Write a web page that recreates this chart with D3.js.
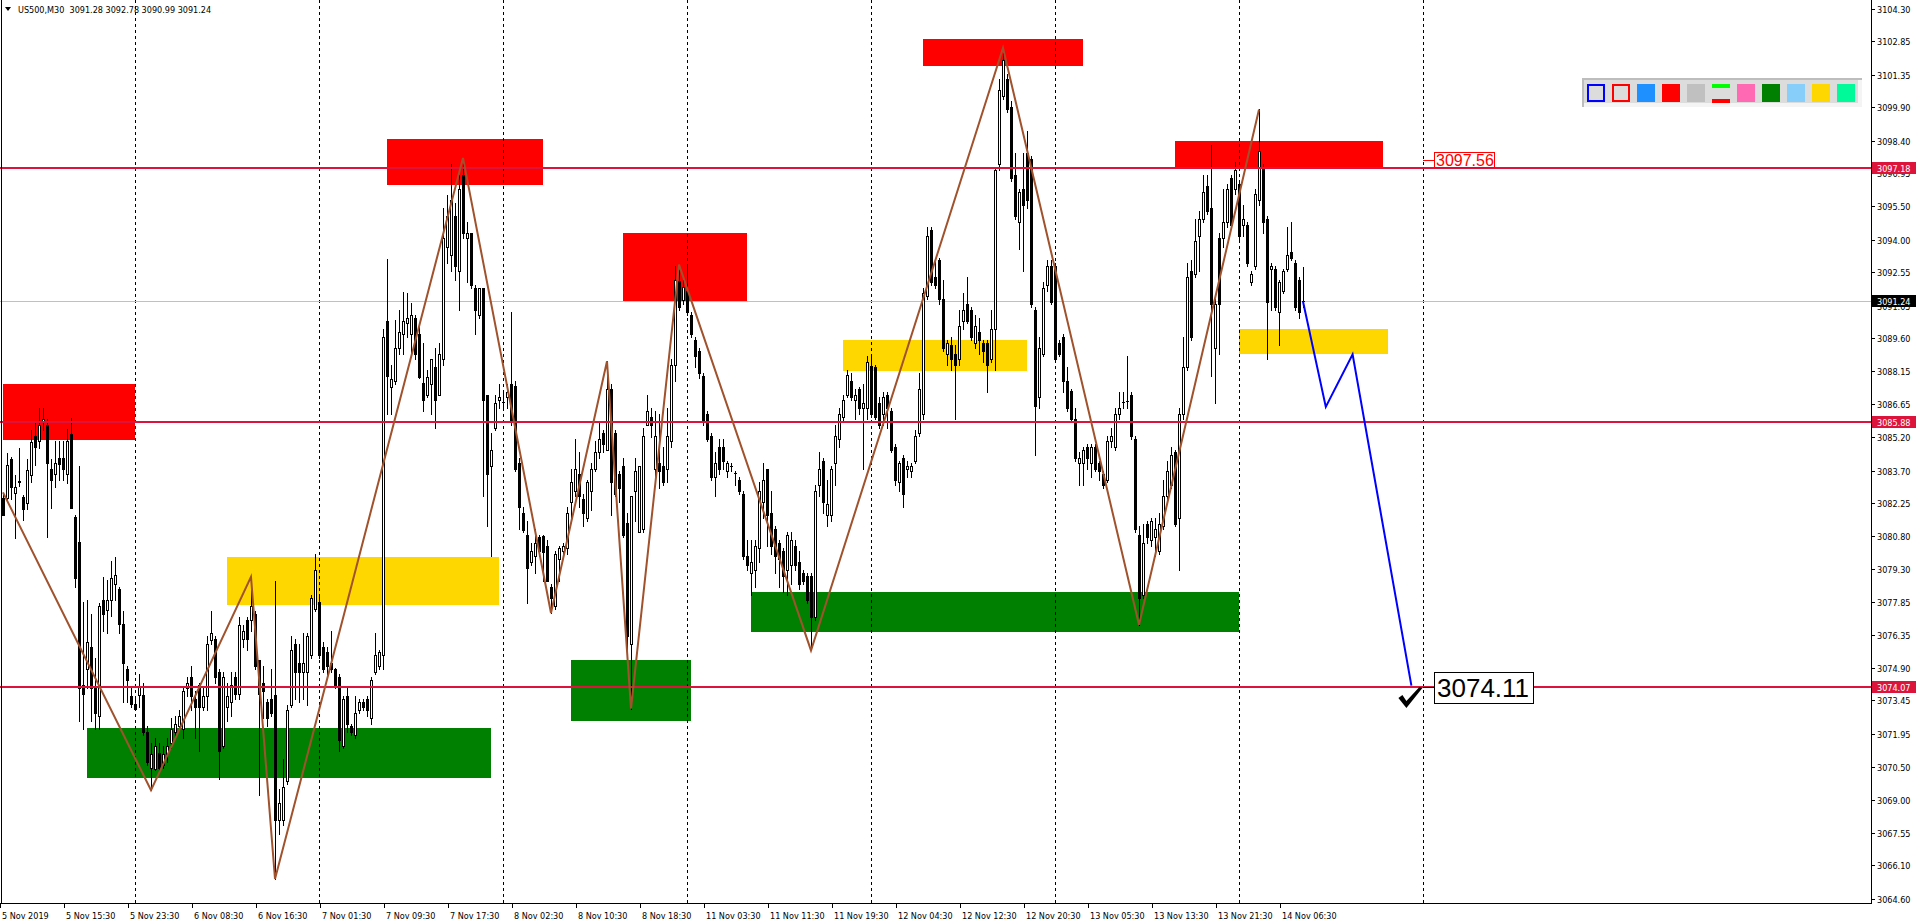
<!DOCTYPE html>
<html><head><meta charset="utf-8">
<script src="https://cdn.jsdelivr.net/npm/d3@7"></script>
<style>
html,body{margin:0;padding:0;background:#fff;overflow:hidden}
svg{display:block}
.sm{font-family:"DejaVu Sans Condensed","DejaVu Sans",sans-serif;font-size:9px}
</style></head><body>
<svg id="c" width="1916" height="923"></svg>
<script>
const symbolTitle = "US500,M30";
const lastQuote = ["3091.28", "3092.78", "3090.99", "3091.24"];
const priceTicks = ["3104.30","3102.85","3101.35","3099.90","3098.40","3096.95","3095.50","3094.00","3092.55","3091.05","3089.60","3088.15","3086.65","3085.20","3083.70","3082.25","3080.80","3079.30","3077.85","3076.35","3074.90","3073.45","3071.95","3070.50","3069.00","3067.55","3066.10","3064.60"];
const timeLabels = ["5 Nov 2019","5 Nov 15:30","5 Nov 23:30","6 Nov 08:30","6 Nov 16:30","7 Nov 01:30","7 Nov 09:30","7 Nov 17:30","8 Nov 02:30","8 Nov 10:30","8 Nov 18:30","11 Nov 03:30","11 Nov 11:30","11 Nov 19:30","12 Nov 04:30","12 Nov 12:30","12 Nov 20:30","13 Nov 05:30","13 Nov 13:30","13 Nov 21:30","14 Nov 06:30"];
const timeLabelBars = [0,16,32,48,64,80,96,112,128,144,160,176,192,208,224,240,256,272,288,304,320];
const dayStartBars = [33,79,125,171,217,263,309,355];
const levelLines = [3097.18, 3085.88, 3074.07];
const bidPrice = 3091.24;
// [open, high, low, close] per M30 bar
const candles = [
[3082.46,3082.69,3081.72,3081.72],[3082.46,3084.47,3082.39,3083.95],[3084.22,3084.30,3082.42,3082.98],[3082.69,3083.50,3080.70,3082.98],
[3083.20,3084.70,3083.00,3083.25],[3082.50,3082.60,3081.50,3082.00],[3082.27,3084.22,3081.97,3083.73],[3083.50,3085.51,3083.21,3084.96],
[3085.26,3085.81,3083.97,3084.74],[3085.02,3086.48,3084.70,3085.73],[3085.86,3086.50,3085.50,3086.00],[3085.73,3086.00,3080.72,3084.02],
[3083.77,3084.22,3082.01,3083.28],[3083.53,3085.02,3082.98,3084.02],[3084.28,3085.02,3083.28,3084.00],[3084.28,3085.02,3083.28,3083.77],
[3083.53,3085.56,3083.13,3085.02],[3085.32,3086.06,3082.01,3082.01],[3081.62,3081.70,3078.50,3078.93],[3080.52,3083.90,3072.53,3074.00],
[3074.12,3077.83,3072.16,3073.75],[3074.85,3077.91,3074.00,3076.07],[3075.83,3077.30,3072.53,3074.00],[3074.00,3075.34,3072.16,3072.89],
[3072.77,3077.78,3072.16,3077.66],[3077.91,3078.96,3076.56,3077.30],[3077.47,3078.81,3076.44,3077.91],[3077.91,3079.67,3077.22,3078.93],
[3078.64,3079.86,3077.91,3079.06],[3078.40,3078.52,3076.44,3076.88],[3076.88,3077.42,3073.38,3075.10],[3074.85,3074.97,3073.38,3074.36],
[3073.63,3074.00,3073.14,3073.31],[3073.31,3073.51,3073.02,3073.07],[3073.70,3074.61,3073.14,3074.04],[3073.68,3074.24,3071.92,3072.04],
[3072.04,3072.29,3070.57,3070.69],[3070.45,3071.55,3069.45,3071.06],[3070.38,3071.79,3070.33,3071.43],[3071.10,3071.55,3070.33,3070.45],
[3070.57,3071.43,3070.45,3071.06],[3071.06,3071.79,3070.69,3071.43],[3071.55,3072.65,3071.31,3072.16],[3072.04,3072.77,3071.79,3072.41],
[3072.33,3073.02,3072.16,3072.77],[3072.16,3074.00,3071.79,3073.87],[3074.00,3074.48,3073.63,3074.24],[3074.48,3074.97,3073.02,3073.63],
[3073.51,3073.87,3071.79,3073.14],[3074.12,3074.24,3071.18,3073.14],[3073.14,3074.00,3073.02,3073.63],[3073.63,3076.32,3073.02,3075.95],
[3076.15,3077.42,3075.95,3076.44],[3076.20,3076.32,3074.24,3074.48],[3074.73,3074.85,3069.96,3071.18],[3071.43,3074.73,3071.31,3074.48],
[3073.14,3074.24,3072.53,3073.63],[3073.38,3074.73,3072.77,3074.12],[3074.48,3074.73,3073.51,3073.75],[3073.75,3077.17,3073.51,3076.81],
[3076.20,3076.81,3075.83,3076.56],[3077.05,3077.17,3075.71,3076.20],[3077.05,3078.96,3076.56,3077.66],[3077.30,3077.42,3074.85,3074.97],
[3075.26,3075.26,3069.23,3073.75],[3074.24,3074.97,3072.65,3073.87],[3073.38,3073.51,3072.29,3072.65],[3073.51,3074.85,3072.77,3072.89],
[3073.70,3078.77,3065.49,3068.13],[3068.13,3069.50,3067.50,3068.86],[3068.13,3070.82,3067.88,3069.60],[3069.84,3073.26,3069.72,3073.02],
[3073.26,3076.32,3073.14,3075.71],[3075.95,3076.20,3073.51,3074.73],[3075.10,3075.95,3073.38,3074.73],[3074.73,3076.44,3073.51,3075.10],
[3074.73,3076.44,3073.26,3076.32],[3075.46,3078.15,3075.34,3078.03],[3077.54,3079.99,3077.42,3079.25],[3077.83,3078.15,3075.34,3075.46],
[3075.83,3076.07,3074.73,3074.85],[3075.59,3075.83,3074.61,3074.97],[3075.10,3076.56,3074.73,3074.85],[3074.85,3074.90,3074.00,3074.12],
[3074.48,3074.61,3071.18,3071.67],[3071.43,3073.63,3071.31,3073.51],[3073.63,3074.00,3072.04,3072.41],[3072.29,3072.41,3071.92,3072.04],
[3071.92,3073.63,3071.79,3072.89],[3073.02,3073.51,3072.89,3073.38],[3073.38,3073.51,3073.02,3073.14],[3073.51,3073.63,3072.77,3073.02],
[3072.65,3074.48,3072.41,3074.36],[3074.73,3076.44,3074.61,3075.46],[3074.97,3075.71,3074.85,3075.59],[3075.46,3090.01,3074.85,3089.65],
[3090.38,3093.12,3086.22,3087.93],[3087.44,3088.42,3086.22,3087.80],[3087.69,3090.43,3087.57,3089.16],[3089.16,3090.87,3088.91,3089.89],
[3089.77,3091.65,3088.91,3090.38],[3090.26,3091.60,3089.65,3090.50],[3089.77,3091.16,3088.91,3090.62],[3090.50,3090.62,3088.67,3088.91],
[3089.77,3090.13,3087.81,3087.88],[3087.62,3089.40,3086.34,3086.83],[3087.08,3088.18,3086.96,3087.88],[3087.57,3088.67,3086.22,3088.67],
[3088.30,3089.16,3085.61,3086.83],[3087.08,3089.40,3087.08,3088.91],[3088.67,3095.39,3088.42,3094.05],[3093.68,3096.00,3092.95,3095.03],
[3093.32,3097.35,3092.58,3095.76],[3095.03,3095.64,3092.21,3092.83],[3092.58,3096.86,3090.87,3096.25],[3096.86,3097.64,3094.05,3094.29],
[3094.05,3094.78,3092.09,3094.29],[3094.29,3094.29,3091.85,3091.97],[3091.85,3091.97,3089.77,3090.87],[3090.62,3091.85,3090.50,3091.85],
[3091.85,3091.85,3082.55,3086.83],[3087.08,3087.08,3081.21,3083.53],[3083.90,3085.37,3079.87,3084.63],[3085.61,3087.08,3085.49,3086.71],
[3086.83,3087.57,3086.47,3086.96],[3086.76,3087.20,3086.47,3086.76],[3087.00,3087.57,3086.47,3087.20],[3087.57,3090.75,3085.73,3085.86],
[3087.49,3087.69,3083.66,3083.78],[3084.02,3084.27,3081.09,3082.06],[3081.82,3082.06,3080.96,3081.04],[3080.84,3081.45,3077.78,3079.37],
[3079.62,3080.48,3079.50,3080.11],[3079.87,3081.09,3079.13,3080.48],[3080.72,3080.84,3079.87,3080.11],[3080.79,3080.84,3078.76,3080.06],
[3080.35,3080.60,3078.76,3078.76],[3078.52,3078.64,3077.35,3078.03],[3077.66,3080.11,3077.54,3079.99],[3079.75,3080.35,3078.76,3080.23],
[3080.11,3080.48,3079.87,3080.35],[3080.23,3082.06,3079.99,3081.82],[3082.31,3083.78,3081.58,3083.17],[3082.80,3085.12,3082.55,3083.78],
[3083.53,3084.51,3082.06,3082.55],[3082.43,3082.67,3081.21,3081.82],[3081.58,3083.29,3081.45,3083.17],[3082.80,3084.02,3081.94,3083.78],
[3083.78,3085.00,3083.66,3084.51],[3084.51,3085.86,3084.27,3085.12],[3085.37,3085.49,3084.51,3084.88],[3084.63,3088.57,3084.63,3087.32],
[3087.32,3087.57,3081.70,3083.17],[3085.37,3085.49,3082.55,3082.67],[3083.53,3083.66,3082.31,3082.92],[3083.90,3084.27,3080.72,3080.84],
[3081.38,3081.82,3075.71,3076.32],[3075.95,3082.55,3073.09,3082.55],[3082.80,3084.27,3081.45,3083.66],[3080.96,3083.90,3080.96,3083.90],
[3081.09,3085.61,3080.96,3085.25],[3085.74,3087.08,3085.74,3086.34],[3086.10,3086.50,3085.20,3085.73],[3083.78,3086.34,3083.00,3085.24],
[3084.02,3086.22,3082.92,3083.66],[3083.90,3084.76,3083.04,3083.17],[3083.78,3086.47,3083.17,3085.24],[3085.00,3088.67,3084.76,3088.42],
[3088.42,3092.83,3087.69,3092.21],[3092.14,3092.88,3090.87,3090.99],[3091.31,3092.21,3091.11,3091.89],[3091.72,3092.83,3090.62,3090.75],
[3090.62,3090.75,3089.65,3089.77],[3089.52,3089.65,3088.30,3088.79],[3089.03,3089.16,3087.81,3088.05],[3087.93,3088.05,3085.74,3085.86],
[3086.22,3086.34,3085.00,3085.12],[3085.24,3085.37,3083.29,3083.41],[3083.41,3084.51,3082.55,3084.02],[3084.76,3085.12,3083.53,3083.78],
[3084.76,3085.12,3083.78,3084.14],[3083.66,3084.14,3083.41,3084.02],[3083.90,3084.02,3083.66,3083.90],[3083.58,3083.66,3083.04,3083.58],
[3083.29,3083.41,3082.67,3082.80],[3082.67,3082.80,3079.74,3079.87],[3079.87,3080.60,3079.25,3079.50],[3079.13,3080.60,3078.15,3079.62],
[3079.25,3080.60,3078.52,3080.35],[3080.23,3083.17,3079.62,3082.80],[3082.31,3084.02,3081.58,3083.29],[3083.78,3083.78,3080.35,3081.70],
[3081.82,3082.80,3079.99,3080.35],[3081.09,3081.21,3079.13,3079.87],[3080.48,3080.60,3078.52,3079.74],[3080.11,3080.23,3078.27,3079.01],
[3079.25,3080.96,3078.15,3080.84],[3079.50,3080.96,3078.64,3080.60],[3080.35,3080.60,3079.25,3079.50],[3079.62,3080.11,3078.40,3078.64],
[3079.13,3079.25,3078.64,3078.76],[3079.01,3079.13,3077.78,3077.91],[3079.01,3079.13,3075.68,3077.17],[3077.17,3083.04,3077.05,3082.80],
[3083.04,3084.51,3082.55,3083.78],[3084.14,3084.27,3081.82,3082.31],[3081.70,3083.29,3081.21,3082.19],[3081.70,3083.90,3081.45,3083.78],
[3084.02,3085.73,3083.04,3085.24],[3085.12,3086.47,3084.76,3086.22],[3086.10,3087.08,3085.86,3086.83],[3087.08,3088.18,3086.96,3087.98],
[3087.69,3088.05,3086.83,3086.96],[3086.83,3087.32,3085.98,3087.08],[3087.32,3087.44,3086.22,3086.47],[3086.47,3087.57,3083.78,3086.71],
[3086.47,3088.79,3085.98,3088.55],[3088.37,3088.91,3086.10,3086.22],[3088.30,3088.42,3085.98,3086.10],[3086.71,3086.96,3085.61,3085.73],
[3086.22,3087.20,3085.73,3086.96],[3087.08,3087.20,3085.61,3086.47],[3086.34,3086.47,3084.51,3084.63],[3084.76,3084.88,3083.04,3083.29],
[3083.17,3084.14,3082.80,3084.02],[3084.27,3084.39,3082.06,3082.67],[3083.78,3084.14,3083.41,3083.90],[3083.66,3084.02,3083.41,3083.90],
[3084.14,3085.49,3084.02,3085.24],[3085.37,3088.05,3085.24,3087.32],[3086.22,3091.85,3085.98,3091.60],[3091.48,3094.54,3091.36,3094.17],
[3094.41,3094.54,3091.97,3092.09],[3092.33,3093.19,3091.85,3091.97],[3093.07,3093.19,3091.11,3091.36],[3091.36,3092.21,3089.03,3089.16],
[3088.91,3089.52,3088.42,3089.40],[3089.28,3089.65,3088.18,3088.67],[3088.91,3089.28,3085.98,3088.42],[3088.67,3090.87,3088.42,3090.13],
[3090.38,3091.60,3090.01,3090.87],[3091.11,3092.33,3090.26,3090.38],[3090.87,3090.99,3089.52,3089.65],[3089.40,3090.62,3089.16,3090.13],
[3089.89,3090.50,3088.91,3089.52],[3089.40,3089.52,3088.55,3089.03],[3089.40,3089.52,3087.20,3088.42],[3088.67,3090.87,3088.55,3090.01],
[3090.01,3097.23,3088.18,3097.11],[3097.35,3101.14,3097.11,3100.65],[3100.41,3102.54,3100.28,3101.99],[3101.14,3101.38,3099.67,3099.80],
[3099.92,3100.16,3096.62,3096.74],[3096.86,3097.84,3094.90,3095.03],[3094.78,3096.25,3093.56,3096.13],[3096.25,3097.84,3092.58,3095.52],
[3097.84,3098.82,3095.39,3095.76],[3097.59,3097.72,3090.99,3091.11],[3090.87,3090.99,3084.39,3086.59],[3086.96,3089.65,3086.47,3089.16],
[3088.91,3092.09,3088.79,3091.85],[3091.97,3093.07,3091.72,3092.83],[3092.83,3093.07,3091.11,3091.23],[3092.83,3092.95,3088.55,3088.67],
[3089.40,3089.52,3088.79,3088.91],[3089.65,3089.77,3087.20,3087.69],[3087.69,3088.30,3086.34,3086.47],[3087.25,3087.32,3085.86,3085.98],
[3085.98,3086.47,3084.14,3084.27],[3084.02,3084.51,3083.04,3084.27],[3084.02,3084.76,3083.04,3084.63],[3084.76,3084.88,3083.78,3084.27],
[3084.02,3084.88,3083.41,3084.76],[3084.76,3084.88,3083.66,3083.78],[3084.02,3084.14,3083.29,3083.66],[3083.53,3083.66,3082.92,3083.04],
[3083.29,3085.24,3083.17,3085.00],[3085.00,3085.61,3084.76,3085.24],[3084.76,3086.47,3084.63,3086.22],[3086.22,3087.20,3085.98,3086.47],
[3086.76,3087.20,3086.47,3086.76],[3086.81,3088.79,3086.47,3086.81],[3087.08,3087.20,3085.12,3085.24],[3085.12,3085.24,3080.96,3081.09],
[3080.84,3081.21,3076.83,3078.03],[3078.15,3081.33,3078.03,3080.48],[3081.33,3081.45,3080.48,3080.72],[3080.60,3081.58,3080.35,3081.45],
[3080.72,3081.58,3079.87,3081.09],[3080.11,3081.82,3079.99,3081.33],[3081.21,3083.29,3081.09,3082.55],[3082.55,3084.14,3082.31,3083.66],
[3083.04,3084.76,3082.92,3084.39],[3084.51,3084.63,3081.21,3081.33],[3081.58,3086.47,3079.25,3086.22],[3086.22,3089.65,3085.98,3088.30],
[3088.30,3092.95,3088.18,3092.33],[3092.58,3093.07,3089.52,3089.65],[3092.46,3094.90,3092.33,3093.93],[3094.17,3095.27,3092.58,3094.90],
[3094.90,3096.86,3094.78,3096.13],[3096.37,3096.86,3095.15,3095.27],[3095.39,3098.21,3087.93,3091.11],[3089.16,3091.36,3086.71,3091.11],
[3094.05,3094.29,3088.91,3091.11],[3094.05,3096.25,3093.68,3094.78],[3094.78,3096.49,3094.54,3096.25],[3096.74,3096.86,3094.54,3094.66],
[3096.25,3097.47,3096.01,3097.11],[3096.49,3096.62,3093.93,3094.17],[3094.66,3095.52,3094.17,3094.90],[3094.66,3094.78,3092.83,3092.95],
[3092.09,3092.58,3091.97,3092.46],[3092.83,3096.25,3092.70,3096.01],[3095.76,3099.80,3095.52,3097.96],[3097.23,3097.35,3094.29,3094.78],
[3094.90,3095.03,3088.67,3091.23],[3092.70,3092.95,3090.87,3092.83],[3092.70,3092.83,3090.87,3090.99],[3090.75,3092.21,3089.28,3092.09],
[3091.72,3092.70,3091.60,3092.58],[3092.70,3094.54,3092.58,3093.32],[3093.44,3094.78,3093.07,3093.19],[3092.95,3093.07,3090.87,3091.00],
[3092.21,3092.33,3090.50,3090.75],[3091.28,3092.78,3090.99,3091.24]
];
// zones: [fromBar, toBar, topPrice, bottomPrice]
const redZones = [[0,33,3087.57,3085.05],[96,135,3098.48,3096.42],[155,186,3094.29,3091.26],[230,270,3102.95,3101.73],[293,345,3098.40,3097.18]];
const yellowZones = [[56,124,3079.84,3077.71],[210,256,3089.53,3088.13],[309,346.3,3090.02,3088.89]];
const greenZones = [[21,122,3072.21,3070.01],[142,172,3075.24,3072.55],[187,309,3078.28,3076.49]];
// zigzag vertices: [bar, price]
const zigzag = [[0,3082.73],[37,3069.45],[62,3078.96],[68,3065.49],[115,3097.64],[137,3077.35],[151,3088.57],[157,3073.09],[169,3092.88],[202,3075.68],[250,3102.54],[284,3076.83],[314,3099.80]];
const projection = [[325,3091.24],[330.7,3086.54],[337.4,3088.88],[352.1,3074.11]];
const resistanceTag = {bar: 357.75, price: 3097.56, text: "3097.56"};
const targetTag = {bar: 357.75, price: 3074.11, text: "3074.11"};
const toolbarColors = ["outline:#0000FF","outline:#FF0000","#1E90FF","#FF0000","#C0C0C0","pair","#FF69B4","#008000","#87CEFA","#FFD700","#00FA9A"];

const W = 1871, H = 903;
const svg = d3.select("#c");
const x = d3.scaleLinear().domain([0, 1]).range([3, 7]);
const y = d3.scaleLinear().domain([3064.42, 3104.68]).range([H, 0]);
const r = v => Math.round(v);

svg.append("rect").attr("width",1916).attr("height",923).attr("fill","#fff");
const plot = svg.append("g");

function zones(list, color){
  plot.selectAll(null).data(list).enter().append("rect")
    .attr("x", d => r(x(d[0]))).attr("width", d => r(x(d[1])) - r(x(d[0])))
    .attr("y", d => r(y(d[2]))).attr("height", d => r(y(d[3])) - r(y(d[2])))
    .attr("fill", color).attr("shape-rendering","crispEdges");
}
zones(redZones, "#FF0000");
zones(yellowZones, "#FFD700");
zones(greenZones, "#008000");

// day grid
plot.selectAll(null).data(dayStartBars).enter().append("line")
  .attr("x1", d => x(d) + 0.5).attr("x2", d => x(d) + 0.5)
  .attr("y1", 0).attr("y2", H)
  .attr("stroke", "#000").attr("stroke-dasharray","3,3").attr("shape-rendering","crispEdges");

// bid line
plot.append("line").attr("x1",0).attr("x2",W).attr("y1", r(y(bidPrice))+0.5).attr("y2", r(y(bidPrice))+0.5)
  .attr("stroke","#C0C0C0").attr("shape-rendering","crispEdges");

// candles
const cg = plot.append("g").attr("shape-rendering","crispEdges");
candles.forEach((d, i) => {
  const [o,h,l,c] = d;
  const cx = r(x(i));
  const hy = r(y(Math.max(h,o,c))), ly = r(y(Math.min(l,o,c)));
  cg.append("rect").attr("x",cx).attr("y",hy).attr("width",1).attr("height",ly-hy+1).attr("fill","#000");
  const ty = r(y(Math.max(o,c))), by = r(y(Math.min(o,c)));
  if (by - ty < 2) {
    cg.append("rect").attr("x",cx-1).attr("y",ty).attr("width",3).attr("height",Math.max(1,by-ty+1)).attr("fill","#000");
  } else {
    cg.append("rect").attr("x",cx-1).attr("y",ty).attr("width",3).attr("height",by-ty+1).attr("fill","#000");
    if (c > o) cg.append("rect").attr("x",cx).attr("y",ty+1).attr("width",1).attr("height",by-ty-1).attr("fill","#fff");
  }
});

// level lines
plot.selectAll(null).data(levelLines).enter().append("rect")
  .attr("x",0).attr("width",W).attr("y", d => r(y(d)) - 1).attr("height",2)
  .attr("fill","#DC143C").attr("shape-rendering","crispEdges");

// zigzag
const line = d3.line().x(d => x(d[0])).y(d => y(d[1]));
plot.append("path").attr("d", line(zigzag)).attr("fill","none").attr("stroke","#A0522D").attr("stroke-width",2);
plot.append("path").attr("d", line(projection)).attr("fill","none").attr("stroke","#0000FF").attr("stroke-width",2);

// resistance tag
{
  const ty = r(y(resistanceTag.price));
  const bx = r(x(resistanceTag.bar));
  plot.append("line").attr("x1",bx-11).attr("x2",bx).attr("y1",ty+0.5).attr("y2",ty+0.5).attr("stroke","#FF0000").attr("shape-rendering","crispEdges");
  plot.append("rect").attr("x",bx+0.5).attr("y",ty-7.5).attr("width",60).attr("height",15).attr("fill","#fff").attr("stroke","#FF0000");
  plot.append("text").attr("x",bx+2).attr("y",ty+6).attr("fill","#FF0000")
    .style("font-family","'Liberation Sans',Arial,sans-serif").style("font-size","16px").text(resistanceTag.text);
}
// target tag
{
  const ty = r(y(targetTag.price));
  const bx = r(x(targetTag.bar));
  plot.append("line").attr("x1",bx-11).attr("x2",bx).attr("y1",ty+1.5).attr("y2",ty+1.5).attr("stroke","#000").attr("shape-rendering","crispEdges");
  plot.append("rect").attr("x",bx+0.5).attr("y",ty-13.5).attr("width",99).attr("height",31).attr("fill","#fff").attr("stroke","#000");
  plot.append("text").attr("x",bx+3).attr("y",ty+11).attr("fill","#000")
    .style("font-family","'Liberation Sans',Arial,sans-serif").style("font-size","26px").text(targetTag.text);
  // check mark
  const ox = x(projection[projection.length-1][0]) - 12, oy = ty + 4;
  plot.append("path").attr("d", `M${ox-1},${oy+8} L${ox+3},${oy+5} L${ox+7},${oy+11} L${ox+20},${oy-3} L${ox+23},${oy-2} L${ox+7},${oy+18} Z`).attr("fill","#000");
}

// title
svg.append("path").attr("d","M5,7 L11,7 L8,11 Z").attr("fill","#000");
svg.append("text").attr("class","sm").attr("x",18).attr("y",13).style("white-space","pre")
  .text(symbolTitle + "  " + lastQuote.join(" "));

// frame
const fg = svg.append("g").attr("shape-rendering","crispEdges");
fg.append("line").attr("x1",1.5).attr("x2",1.5).attr("y1",0).attr("y2",H).attr("stroke","#000");
fg.append("line").attr("x1",W+0.5).attr("x2",W+0.5).attr("y1",0).attr("y2",H+1).attr("stroke","#000");
fg.append("line").attr("x1",0).attr("x2",W+1).attr("y1",H+0.5).attr("y2",H+0.5).attr("stroke","#000");

// price axis
const pa = svg.append("g");
priceTicks.forEach(s => {
  const ty = r(y(+s));
  pa.append("line").attr("x1",W).attr("x2",W+4).attr("y1",ty+0.5).attr("y2",ty+0.5).attr("stroke","#000").attr("shape-rendering","crispEdges");
  pa.append("text").attr("class","sm").attr("x",W+6).attr("y",ty+3.5).attr("fill","#000").text(s);
});
function tagLabel(price, bg){
  const ty = r(y(price));
  pa.append("rect").attr("x",W+1).attr("y",ty-6).attr("width",45).attr("height",12).attr("fill",bg).attr("shape-rendering","crispEdges");
  pa.append("text").attr("class","sm").attr("x",W+6).attr("y",ty+3.5).attr("fill","#fff").text(price.toFixed(2));
}
levelLines.forEach(p => tagLabel(p, "#DC143C"));
tagLabel(bidPrice, "#000");

// time axis
const ta = svg.append("g");
timeLabels.forEach((s, k) => {
  const tx = r(x(timeLabelBars[k]));
  ta.append("line").attr("x1",tx-2.5).attr("x2",tx-2.5).attr("y1",H).attr("y2",H+5).attr("stroke","#000").attr("shape-rendering","crispEdges");
  ta.append("text").attr("class","sm").attr("x",tx-1).attr("y",919).attr("fill","#000").text(s);
});

// toolbar panel
const tb = svg.append("g").attr("shape-rendering","crispEdges");
tb.append("rect").attr("x",1582).attr("y",78).attr("width",280).attr("height",29).attr("fill","#F4F4F4");
tb.append("rect").attr("x",1582).attr("y",78).attr("width",276).attr("height",25).attr("fill","#DCDCDC");
tb.append("rect").attr("x",1582).attr("y",78).attr("width",280).attr("height",2).attr("fill","#BDBDBD");
tb.append("rect").attr("x",1582).attr("y",78).attr("width",2).attr("height",29).attr("fill","#BDBDBD");
toolbarColors.forEach((c, k) => {
  const bx = 1587 + k*25, by = 84;
  if (c.startsWith("outline:")) {
    tb.append("rect").attr("x",bx+1).attr("y",by+1).attr("width",16).attr("height",16).attr("fill","#DCDCDC").attr("stroke",c.slice(8)).attr("stroke-width",2);
  } else if (c === "pair") {
    tb.append("rect").attr("x",bx).attr("y",by).attr("width",18).attr("height",4).attr("fill","#00FF00");
    tb.append("rect").attr("x",bx).attr("y",by+15).attr("width",18).attr("height",4).attr("fill","#FF0000");
  } else {
    tb.append("rect").attr("x",bx).attr("y",by).attr("width",18).attr("height",18).attr("fill",c);
  }
});
</script>
</body></html>
